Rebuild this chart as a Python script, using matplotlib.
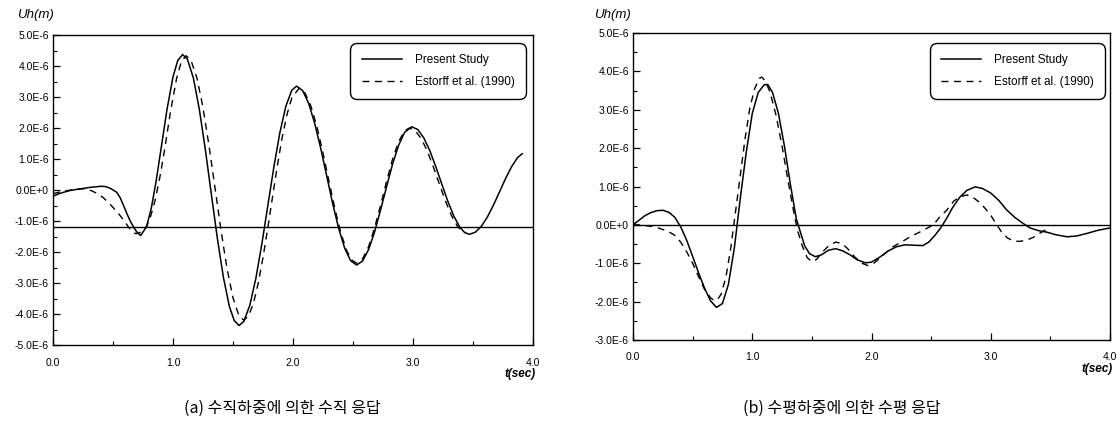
import matplotlib
matplotlib.use("Agg")
import matplotlib.pyplot as plt
from matplotlib.ticker import MultipleLocator, FuncFormatter

# ---------- data (t in sec, Uh in 1E-6 m) ----------
t_a_ps = [0.00, 0.05, 0.10, 0.15, 0.20, 0.25, 0.30, 0.35, 0.40, 0.44, 0.48, 0.53, 0.56, 0.59,
          0.62, 0.65, 0.68, 0.70, 0.73, 0.78, 0.82, 0.86, 0.90, 0.95, 1.00, 1.04, 1.08, 1.12,
          1.17, 1.22, 1.27, 1.32, 1.37, 1.42, 1.47, 1.51, 1.55, 1.59, 1.64, 1.69, 1.74, 1.79,
          1.84, 1.89, 1.94, 1.99, 2.03, 2.08, 2.13, 2.18, 2.23, 2.28, 2.33, 2.38, 2.43, 2.48,
          2.53, 2.58, 2.63, 2.68, 2.73, 2.78, 2.83, 2.88, 2.93, 2.99, 3.04, 3.09, 3.14, 3.19,
          3.24, 3.29, 3.34, 3.39, 3.43, 3.47, 3.52, 3.57, 3.62, 3.67, 3.72, 3.77, 3.82, 3.87, 3.91]
u_a_ps = [-0.20, -0.12, -0.06, -0.01, 0.02, 0.05, 0.08, 0.10, 0.12, 0.11, 0.05, -0.07, -0.25, -0.52,
          -0.80, -1.05, -1.25, -1.36, -1.47, -1.18, -0.57, 0.30, 1.32, 2.60, 3.65, 4.18, 4.37, 4.22,
          3.61, 2.59, 1.29, -0.15, -1.57, -2.82, -3.76, -4.21, -4.37, -4.24, -3.72, -2.86, -1.75, -0.51,
          0.73, 1.84, 2.70, 3.22, 3.35, 3.21, 2.80, 2.16, 1.36, 0.47, -0.43, -1.23, -1.87, -2.28,
          -2.42, -2.29, -1.92, -1.35, -0.64, 0.11, 0.84, 1.44, 1.86, 2.04, 1.95, 1.68, 1.27, 0.75,
          0.19, -0.36, -0.84, -1.20, -1.37, -1.43, -1.36, -1.17, -0.87, -0.49, -0.07, 0.36, 0.74, 1.04, 1.17]

t_a_es = [0.00, 0.05, 0.10, 0.15, 0.20, 0.25, 0.30, 0.34, 0.38, 0.42, 0.46, 0.50, 0.55, 0.59,
          0.63, 0.66, 0.69, 0.72, 0.75, 0.78, 0.81, 0.85, 0.89, 0.93, 0.98, 1.03, 1.07, 1.11,
          1.15, 1.20, 1.25, 1.30, 1.35, 1.40, 1.45, 1.50, 1.55, 1.59, 1.63, 1.67, 1.71, 1.75,
          1.79, 1.83, 1.87, 1.91, 1.95, 1.99, 2.05, 2.10, 2.15, 2.20, 2.25, 2.30, 2.35, 2.40,
          2.45, 2.49, 2.53, 2.58, 2.63, 2.68, 2.73, 2.78, 2.83, 2.88, 2.93, 2.97, 3.02, 3.07,
          3.12, 3.17, 3.22, 3.27, 3.32, 3.37, 3.41, 3.43]
u_a_es = [-0.12, -0.07, -0.03, 0.00, 0.03, 0.04, 0.01, -0.06, -0.14, -0.25, -0.40, -0.56, -0.78, -0.98,
          -1.20, -1.34, -1.41, -1.38, -1.30, -1.17, -0.90, -0.35, 0.40, 1.30, 2.55, 3.60, 4.15, 4.33,
          4.18, 3.61, 2.66, 1.43, 0.07, -1.30, -2.53, -3.48, -4.06, -4.20, -4.06, -3.66, -3.01, -2.18,
          -1.22, -0.21, 0.79, 1.70, 2.44, 2.97, 3.28, 3.13, 2.70, 2.03, 1.19, 0.28, -0.62, -1.40,
          -1.98, -2.26, -2.36, -2.22, -1.83, -1.22, -0.49, 0.28, 1.00, 1.56, 1.91, 2.00, 1.91, 1.65,
          1.25, 0.74, 0.19, -0.35, -0.82, -1.17, -1.34, -1.38]

t_b_ps = [0.00, 0.05, 0.10, 0.15, 0.20, 0.25, 0.30, 0.35, 0.40, 0.45, 0.50, 0.55, 0.60, 0.65,
          0.70, 0.75, 0.80, 0.85, 0.90, 0.95, 1.00, 1.05, 1.10, 1.13, 1.17, 1.22, 1.27, 1.32,
          1.37, 1.40, 1.44, 1.48, 1.53, 1.58, 1.64, 1.70, 1.76, 1.82, 1.88, 1.95, 2.00, 2.07,
          2.14, 2.21, 2.28, 2.35, 2.43, 2.48, 2.53, 2.58, 2.63, 2.68, 2.74, 2.80, 2.87, 2.93,
          3.00, 3.07, 3.13, 3.20, 3.27, 3.33, 3.40, 3.47, 3.55, 3.64, 3.72, 3.81, 3.90, 4.00]
u_b_ps = [0.00, 0.12, 0.24, 0.32, 0.37, 0.38, 0.33, 0.20, -0.05, -0.40, -0.82, -1.25, -1.65, -1.98,
          -2.15, -2.05, -1.55, -0.60, 0.70, 1.90, 2.90, 3.45, 3.65, 3.66, 3.45, 2.90, 2.05, 1.05,
          0.15, -0.15, -0.55, -0.75, -0.83, -0.78, -0.66, -0.62, -0.68, -0.78, -0.91, -0.99, -0.97, -0.84,
          -0.68, -0.57, -0.52, -0.53, -0.54, -0.45, -0.28, -0.08, 0.17, 0.45, 0.72, 0.90, 0.99, 0.95,
          0.83, 0.63, 0.40, 0.20, 0.04, -0.08, -0.15, -0.19, -0.26, -0.31, -0.29, -0.22, -0.14, -0.08]

t_b_es = [0.00, 0.05, 0.10, 0.16, 0.20, 0.25, 0.30, 0.35, 0.40, 0.45, 0.50, 0.55, 0.60, 0.65,
          0.68, 0.71, 0.74, 0.78, 0.82, 0.86, 0.90, 0.94, 0.98, 1.02, 1.06, 1.08, 1.11, 1.15,
          1.20, 1.25, 1.30, 1.35, 1.38, 1.42, 1.46, 1.50, 1.54, 1.59, 1.65, 1.70, 1.75, 1.80,
          1.86, 1.92, 1.97, 2.02, 2.10, 2.18, 2.26, 2.33, 2.41, 2.47, 2.52, 2.57, 2.63, 2.69,
          2.74, 2.80, 2.85, 2.90, 2.95, 3.00, 3.04, 3.09, 3.14, 3.19, 3.24, 3.30, 3.36, 3.41, 3.46]
u_b_es = [0.00, 0.00, -0.02, -0.04, -0.07, -0.12, -0.18, -0.27, -0.45, -0.70, -1.00, -1.35, -1.68, -1.90,
          -1.97, -1.94, -1.80, -1.35, -0.60, 0.35, 1.30, 2.25, 3.05, 3.55, 3.82, 3.85, 3.75, 3.45,
          2.85, 2.05, 1.15, 0.30, -0.15, -0.55, -0.85, -0.96, -0.90, -0.70, -0.52, -0.45, -0.48, -0.62,
          -0.84, -1.00, -1.06, -1.00, -0.78, -0.57, -0.43, -0.30, -0.18, -0.08, 0.00, 0.20, 0.38, 0.62,
          0.73, 0.78, 0.72, 0.60, 0.44, 0.25, 0.05, -0.18, -0.34, -0.42, -0.43, -0.40, -0.32, -0.22, -0.13]

ref_line_a = -1.2   # horizontal line drawn in panel (a)
ref_line_b = 0.0
labels = ["Present Study", "Estorff et al. (1990)"]
captions = ["(a) 수직하중에 의한 수직 응답", "(b) 수평하중에 의한 수평 응답"]

W, H = 1119, 437
fig = plt.figure(figsize=(W / 100, H / 100), dpi=100)
plt.rcParams["font.family"] = ["Liberation Sans", "DejaVu Sans"]

def px_axes(x0, x1, y0, y1):
    return fig.add_axes([x0 / W, 1 - y1 / H, (x1 - x0) / W, (y1 - y0) / H])

def ytick(v, pos):
    if abs(v) < 1e-9:
        return "0.0E+0"
    return "%.1fE-6" % v

def setup(ax, ylo, yhi, ref, ylab_x):
    ax.set_xlim(0, 4)
    ax.set_ylim(ylo, yhi)
    ax.xaxis.set_major_locator(MultipleLocator(1.0))
    ax.xaxis.set_minor_locator(MultipleLocator(0.5))
    ax.yaxis.set_major_locator(MultipleLocator(1.0))
    ax.yaxis.set_minor_locator(MultipleLocator(0.5))
    ax.xaxis.set_major_formatter(FuncFormatter(lambda v, p: "%.1f" % v))
    ax.yaxis.set_major_formatter(FuncFormatter(ytick))
    ax.tick_params(which="both", direction="in", top=False, right=False, colors="black")
    ax.tick_params(which="major", length=5, width=0.9)
    ax.tick_params(which="minor", length=3, width=0.8)
    ax.tick_params(axis="x", pad=9, labelsize=7.5)
    ax.tick_params(axis="y", pad=3, labelsize=7.5)
    for s in ax.spines.values():
        s.set_linewidth(1.0)
    ax.axhline(ref, color="black", lw=1.0, zorder=1)
    fig.text(ylab_x / W, 1 - 15 / H, "Uh(m)", ha="left", va="center",
             fontsize=9.5, style="italic")
    ax.text(1.005, -0.075, "t(sec)", transform=ax.transAxes, ha="right", va="top",
            fontsize=8.5, style="italic", fontweight="bold")

def legend(ax, anchor):
    leg = ax.legend(labels, loc="upper right", bbox_to_anchor=anchor, fontsize=8.5,
                    handlelength=3.4, handletextpad=1.1, borderpad=0.95, labelspacing=0.8,
                    fancybox=True, framealpha=1, edgecolor="black", borderaxespad=0)
    leg.get_frame().set_linewidth(1.0)
    leg.get_frame().set_boxstyle("round,pad=0,rounding_size=0.6")

ax1 = px_axes(53, 533, 35, 345)
ax1.plot(t_a_ps, u_a_ps, color="black", lw=1.1)
ax1.plot(t_a_es, u_a_es, color="black", lw=1.0, ls=(0, (5, 4)))
setup(ax1, -5, 5, ref_line_a, 17)
legend(ax1, (0.985, 0.974))

ax2 = px_axes(633, 1110, 33, 340)
ax2.plot(t_b_ps, u_b_ps, color="black", lw=1.1)
ax2.plot(t_b_es, u_b_es, color="black", lw=1.0, ls=(0, (5, 4)))
setup(ax2, -3, 5, ref_line_b, 594)
legend(ax2, (0.99, 0.967))

kfont = ["Noto Sans CJK KR", "DejaVu Sans"]
fig.text(282 / W, 1 - 408 / H, captions[0], ha="center", va="center", fontsize=11.5, family=kfont)
fig.text(842 / W, 1 - 408 / H, captions[1], ha="center", va="center", fontsize=11.5, family=kfont)

fig.savefig("out.png", dpi=100)
